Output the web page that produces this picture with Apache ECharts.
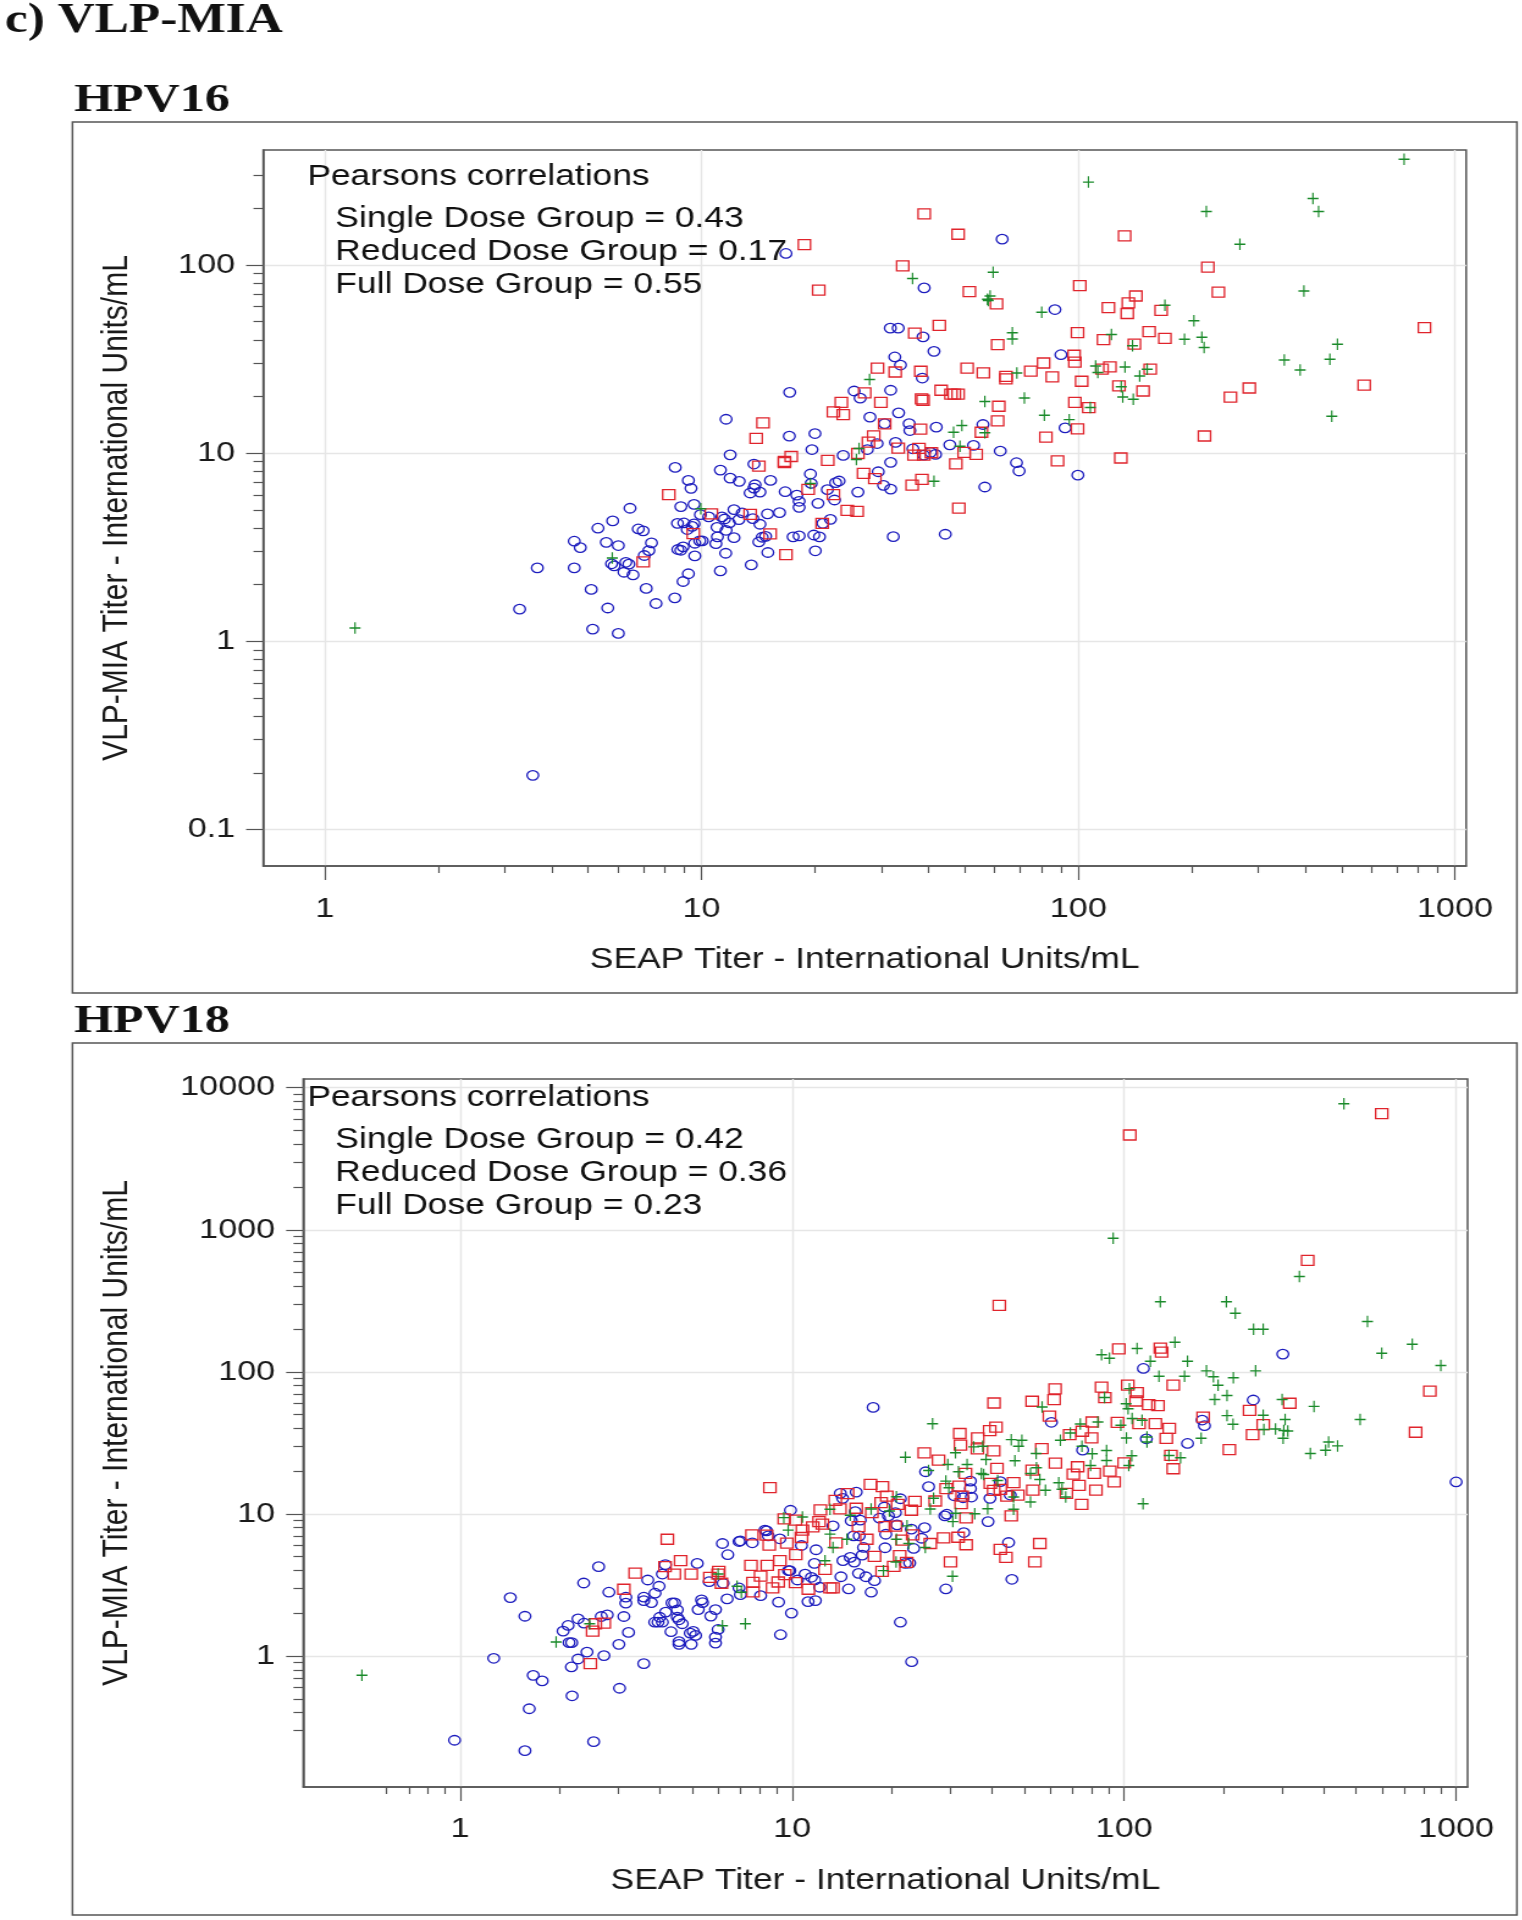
<!DOCTYPE html>
<html><head><meta charset="utf-8">
<script src="https://cdn.jsdelivr.net/npm/echarts@6/dist/echarts.min.js"></script>
<style>html,body{margin:0;padding:0;background:#fff;overflow:hidden}#c{position:absolute;left:0;top:0;transform-origin:0 0}</style>
</head><body><div id="c"></div>
<script>
// Values, as [log10 SEAP titre, log10 VLP-MIA titre].
const hpv16Single=[[1.076,.991],[1.233,1.09],[.93,.924],[1.05,.91],[1.139,.942],[.965,.855],[.972,.813],[1.076,.867],[1.1,.85],[1.183,.855],[1.142,.832],[1.139,.814],[1.129,.788],[1.155,.793],[1.222,.795],[1.253,.777],[.945,.716],[.98,.728],[.81,.707],[.764,.64],[.725,.601],[.832,.597],[.845,.587],[.662,.532],[.678,.498],[.747,.526],[.779,.509],[.867,.523],[.86,.482],[.848,.456],[.564,.39],[.662,.39],[.761,.412],[.768,.401],[.799,.42],[.807,.41],[.794,.367],[.818,.353],[.707,.276],[.853,.281],[.751,.177],[.879,.201],[.929,.231],[.517,.171],[.711,.065],[.779,.042],[.965,.359],[.951,.318],[1.05,.374],[1.132,.406],[1.176,.472],[1.064,.468],[.982,.454],[.945,.484],[.951,.502],[.937,.488],[1.038,.519],[1.042,.555],[1.086,.551],[1.152,.528],[1.161,.553],[1.17,.558],[1.243,.555],[1.259,.56],[.982,.521],[.995,.534],[1.002,.534],[.962,.594],[.936,.627],[.953,.629],[.98,.624],[.975,.611],[1.041,.606],[1.065,.59],[.997,.673],[1.019,.661],[1.054,.661],[1.061,.65],[1.074,.629],[1.086,.7],[1.099,.647],[1.108,.682],[1.136,.652],[1.155,.622],[1.175,.677],[1.207,.684],[1.259,.712],[1.259,.744],
[1.938,1.763],[1.501,1.664],[1.522,1.664],[1.588,1.618],[1.617,1.541],[1.954,1.523],[1.513,1.511],[1.528,1.468],[1.586,1.399],[1.234,1.323],[1.405,1.33],[1.421,1.292],[1.502,1.334],[1.447,1.191],[1.523,1.214],[1.551,1.157],[1.553,1.12],[1.623,1.138],[1.486,1.157],[1.747,1.152],[1.965,1.134],[1.301,1.104],[1.293,1.019],[1.466,1.051],[1.515,1.057],[1.44,1.019],[1.376,.988],[1.561,1.023],[1.608,1.004],[1.621,.993],[1.59,.989],[1.659,1.044],[1.722,1.041],[1.793,1.011],[1.836,.949],[1.843,.905],[1.502,.951],[1.469,.901],[1.483,.829],[1.502,.809],[1.752,.82],[1.999,.883],[1.289,.889],[1.291,.839],[1.334,.806],[1.356,.843],[1.365,.852],[1.415,.793],[1.309,.733],[1.353,.751],[1.342,.648],[1.322,.627],[1.298,.565],[1.313,.555],[1.302,.481],[1.509,.556],[1.647,.569],[1.798,2.137],[1.224,2.061],[1.591,1.878],[1.065,1.18],[.552,-.712]];
const hpv16Reduced=[[1.145,1.078],[1.238,.982],[1.152,.931],[1.22,.956],[1.22,.95],[.913,.779],[1.026,.677],[1.129,.675],[.978,.572],[1.182,.571],[.845,.422],[1.224,.461],
[1.631,1.679],[1.566,1.638],[1.783,1.793],[1.998,1.64],[1.786,1.576],[1.989,1.52],[1.991,1.484],[1.908,1.479],[1.874,1.436],[1.705,1.452],[1.748,1.426],[1.808,1.408],[1.808,1.394],[1.931,1.405],[1.467,1.452],[1.514,1.431],[1.582,1.435],[2.009,1.382],[1.433,1.32],[1.636,1.334],[1.662,1.313],[1.671,1.313],[1.681,1.313],[1.584,1.288],[1.588,1.281],[1.371,1.27],[1.35,1.219],[1.376,1.205],[1.476,1.27],[1.789,1.249],[1.991,1.27],[1.786,1.171],[1.486,1.155],[1.163,1.161],[1.581,1.127],[1.743,1.111],[1.914,1.085],[1.998,1.129],[1.457,1.092],[1.443,1.058],[1.415,.998],[1.522,1.027],[1.577,1.025],[1.564,.989],[1.59,.989],[1.61,1.002],[1.697,1.004],[1.729,.993],[1.675,.943],[1.945,.959],[1.335,.961],[1.43,.892],[1.46,.864],[1.559,.83],[1.585,.86],[1.283,.807],[1.35,.779],[1.387,.696],[1.413,.691],[1.683,.708],[1.32,.627],
[1.591,2.271],[1.681,2.163],[1.273,2.108],[2.123,2.154],[1.534,1.995],[2.344,1.988],[1.311,1.866],[1.711,1.858],[2.004,1.89],[2.372,1.855],[2.08,1.773],[2.153,1.835],[2.133,1.798],[2.13,1.742],[2.22,1.759],[2.067,1.603],[2.188,1.646],[2.23,1.61],[2.149,1.579],[2.084,1.458],[2.063,1.446],[2.191,1.446],[2.108,1.357],[2.172,1.33],[2.028,1.242],[2.113,.974],[2.335,1.091],[2.404,1.298],[2.454,1.346],[2.759,1.361],[2.919,1.667]];
const hpv16Full=[[.998,.705],[.763,.443],[1.903,1.749],[1.761,1.811],[1.825,1.64],[1.825,1.606],[1.837,1.426],[1.446,1.391],[1.752,1.274],[1.857,1.293],[1.91,1.201],[1.976,1.178],[1.691,1.147],[1.669,1.111],[1.752,1.108],[1.418,1.025],[1.411,.966],[1.686,1.037],[1.617,.85],[1.289,.839],
[2.865,2.562],[2.027,2.44],[2.623,2.353],[2.638,2.284],[2.34,2.284],[2.429,2.11],[1.774,1.961],[1.56,1.928],[1.766,1.835],[1.759,1.818],[2.599,1.862],[2.23,1.786],[2.307,1.703],[2.088,1.63],[2.282,1.605],[2.328,1.616],[2.334,1.561],[2.144,1.57],[2.688,1.578],[2.547,1.495],[2.668,1.499],[2.589,1.442],[2.046,1.463],[2.052,1.428],[2.124,1.458],[2.183,1.446],[2.163,1.41],[2.114,1.353],[2.118,1.298],[2.146,1.286],[2.032,1.242],[2.673,1.196],[.08,.071]];
const hpv18Single=[[.151,.411],[.195,.28],[.101,-.016],[-.017,-.593],[.195,-.666],[.402,-.603],[.208,-.371],[.337,-.28],[.48,-.227],[.22,-.136],[.247,-.175],[1.36,-.04],
[.995,1.026],[.918,.886],[.923,.881],[.928,.846],[.963,.825],[.844,.811],[.84,.806],[.79,.792],[.88,.797],[.806,.713],[1.028,.778],[1.072,.748],[1.067,.652],[.714,.652],[.618,.643],[.609,.577],[.417,.629],[.565,.535],[.372,.514],[.599,.491],[.587,.442],[.448,.449],[.499,.414],[.499,.372],[.553,.414],[.553,.39],[.576,.376],[.638,.374],[.646,.374],[.654,.325],[.619,.309],[.654,.273],[.659,.255],[.669,.227],[.601,.273],[.586,.238],[.596,.238],[.609,.238],[.635,.171],[.493,.278],[.443,.29],[.425,.278],[.355,.262],[.325,.215],[.373,.231],[.31,.175],[.507,.166],[.328,.094],[.336,.094],[.478,.082],[.382,.028],[.433,.003],[.355,-.021],[.335,-.077],[.553,-.054],[.727,.395],[.73,.376],[.717,.327],[.769,.327],[.755,.281],[.804,.402],[.777,.187],[.702,.173],[.709,.145],[.693,.161],[.769,.133],[.769,.091],[.659,.101],[.659,.082],[.696,.082],[.965,.15],[.998,.302],[.959,.379],[.905,.425],[.844,.432],[.84,.479],[1.048,.383],[1.07,.39],[1.083,.484],[1.068,.535],[1.058,.554],[1.039,.577],[1.016,.535],[.993,.601],[.989,.601],[.792,.512],[.75,.523],
[1.145,1.145],[1.152,1.11],[1.193,1.154],[1.19,1.016],[1.205,.956],[1.178,.951],[1.202,.846],[1.185,.846],[1.215,.764],[1.211,.71],[1.175,.694],[1.153,.671],[1.187,.661],[1.28,.762],[1.282,.857],[1.278,1.049],[1.263,.97],[1.29,.986],[1.311,1.009],[1.326,1.107],[1.316,.923],[1.359,.893],[1.399,.904],[1.39,.829],[1.366,.757],[1.147,.558],[1.2,.582],[1.222,.558],[1.248,.53],[1.17,.472],[1.238,.449],[1.341,.652],[1.354,.654],[1.326,.238],[1.463,.472],[1.662,.54],[1.652,.799],[1.517,.869],[1.59,.946],[1.466,.998],[1.46,.986],[1.402,1.297],[1.411,1.192],[1.488,1.128],[1.515,1.114],[1.54,1.119],[1.537,1.231],[1.537,1.178],[1.596,1.11],[1.627,1.227],[1.657,1.133],[1.875,1.449],[1.781,1.645],[1.123,.916],
[2.058,2.024],[2.478,2.125],[2.389,1.802],[2.235,1.661],[2.242,1.621],[2.191,1.496],[2.067,1.529],[1.244,1.75],[3,1.225]];
const hpv18Reduced=[[.933,1.185],[1.085,1.028],[.976,.965],[1.01,.956],[1.031,.886],[1.062,.909],[1.081,.946],[1.091,.928],[.879,.853],[.923,.851],[.931,.78],[.984,.794],[1.028,.834],[1.011,.713],[.624,.822],[.664,.671],[.617,.629],[.527,.584],[.645,.577],[.696,.577],[.493,.47],[.752,.554],[.779,.596],[.777,.577],[.787,.512],[.876,.638],[.925,.638],[.963,.671],[.905,.563],[.882,.519],[1.099,.61],[.978,.573],[.958,.521],[1.01,.516],[.941,.479],[1.049,.47],[1.114,.479],[.882,.451],[.434,.231],[.407,.227],[.399,.175],[.392,-.054],
[1.236,1.208],[1.272,1.192],[1.285,1.126],[1.13,1.096],[1.167,1.143],[1.144,1.035],[1.193,1.04],[1.24,1.009],[1.268,1.079],[1.318,1.068],[1.37,1.089],[1.359,1.026],[1.2,.911],[1.28,.911],[1.311,.914],[1.225,.822],[1.132,.797],[1.331,.815],[1.363,.853],[1.416,.792],[1.456,.832],[1.5,.836],[1.524,.783],[1.248,.701],[1.324,.706],[1.345,.659],[1.306,.631],[1.271,.596],[1.123,.479],[1.477,.663],[1.398,1.43],[1.441,1.379],[1.505,1.566],[1.507,1.484],[1.559,1.535],[1.595,1.586],[1.614,1.611],[1.558,1.458],[1.607,1.444],[1.617,1.32],[1.522,1.285],[1.503,1.196],[1.464,1.178],[1.431,1.091],[1.509,1.072],[1.524,.972],[1.597,1.215],[1.667,1.22],[1.512,1.126],[1.607,1.166],[1.627,1.173],[1.647,1.126],[1.68,1.133],[1.725,1.168],[1.723,1.308],[1.752,1.46],[1.793,1.357],[1.86,1.332],[1.847,1.28],[1.864,1.201],[1.872,1.068],[1.826,1.145],[1.836,1.558],[1.874,1.582],[1.66,.986],[1.627,.75],[1.644,.694],[1.746,.792],[1.731,.663],
[1.792,1.88],[1.789,1.805],[1.608,1.781],[1.723,1.793],[1.775,1.689],[1.932,1.892],[1.942,1.819],[2.011,1.906],[2.039,1.854],[2.036,1.795],[2.074,1.769],[2.102,1.762],[2.148,1.906],[2.045,1.635],[2.094,1.635],[1.98,1.645],[1.904,1.647],[1.902,1.536],[2.136,1.602],[2.127,1.532],[2.141,1.412],[2.148,1.318],[2,1.36],[1.91,1.285],[1.957,1.301],[1.97,1.226],[1.915,1.167],[2.238,1.682],[2.317,1.452],[2.378,1.729],[2.419,1.628],[2.387,1.558],[2.499,1.779],
[2.776,3.817],[2.017,3.667],[2.553,2.784],[1.624,2.468],[1.984,2.162],[2.109,2.167],[2.113,2.139],[2.921,1.865],[2.878,1.575]];
const hpv18Full=[[-.296,-.136],[.975,.974],[1.031,.979],[.988,.886],[1.114,1.033],[1.114,.858],[1.099,.671],[.777,.577],[.834,.491],[.847,.449],[.39,.227],[.289,.098],[.79,.213],[.859,.227],
[1.423,1.635],[1.341,1.399],[1.492,1.43],[1.547,1.472],[1.574,1.477],[1.66,1.523],[1.692,1.519],[1.682,1.477],[1.735,1.425],[1.808,1.519],[1.838,1.57],[1.873,1.477],[1.868,1.633],[1.411,1.306],[1.469,1.348],[1.527,1.348],[1.501,1.297],[1.584,1.383],[1.671,1.374],[1.57,1.285],[1.577,1.278],[1.463,1.231],[1.472,1.185],[1.426,1.11],[1.619,1.236],[1.718,1.285],[1.736,1.325],[1.746,1.243],[1.763,1.166],[1.803,1.22],[1.813,1.173],[1.824,1.119],[1.718,1.084],[1.667,1.119],[1.589,1.037],[1.667,1.033],[1.55,1.002],[1.493,1.005],[1.484,.946],[1.416,1.035],[1.314,1.121],[1.238,1.035],[1.293,1.021],[1.175,.991],[1.346,.916],[1.165,.822],[1.314,.822],[1.351,.792],[1.401,.764],[1.123,.764],[1.275,.601],[1.313,.661],[1.483,.561],
[2.662,3.887],[1.967,2.94],[2.528,2.671],[2.109,2.494],[2.308,2.494],[2.335,2.412],[2.39,2.3],[2.419,2.3],[2.733,2.354],[2.868,2.195],[2.776,2.131],[2.954,2.045],[2.153,2.209],[2.039,2.164],[1.932,2.12],[1.956,2.096],[2.711,1.664],[2.572,1.757],[2.561,1.426],[2.607,1.449],[2.616,1.507],[2.643,1.479],
[2.079,2.075],[2.191,2.075],[2.105,1.969],[2.182,1.969],[2.248,2.007],[2.269,1.965],[2.283,1.906],[2.329,1.958],[2.396,2.007],[2.273,1.805],[2.31,1.833],[2.476,1.805],[2.31,1.692],[2.328,1.631],[2.419,1.694],[2.485,1.664],[2.421,1.595],[2.456,1.598],[2.481,1.588],[2.493,1.584],[2.479,1.532],[2.232,1.532],[2.17,1.395],[2.135,1.412],[2.069,1.541],[2.069,1.506],[2.007,1.534],[2.024,1.671],[2.054,1.659],[1.99,1.624],[1.921,1.647],[1.904,1.424],[1.947,1.447],[1.947,1.376],[2.023,1.409],[2.014,1.341],[1.899,1.341],[2.057,1.071],[2.016,1.882],[2.006,1.776],[2.012,1.741],[1.941,1.819],[1.753,1.753]];

const decades16X=[1,10,100,1000], decades16Y=[.1,1,10,100];
const decades18X=[1,10,100,1000], decades18Y=[1,10,100,1000,10000];
const minor16X=[2,3,4,5,6,7,8,9,20,30,40,50,60,70,80,90,200,300,400,500,600,700,800,900];
const minor16Y=[.2,.3,.4,.5,.6,.7,.8,.9,2,3,4,5,6,7,8,9,20,30,40,50,60,70,80,90,200,300];
const minor18X=[.6,.7,.8,.9,2,3,4,5,6,7,8,9,20,30,40,50,60,70,80,90,200,300,400,500,600,700,800,900];
const minor18Y=[.3,.4,.5,.6,.7,.8,.9,2,3,4,5,6,7,8,9,20,30,40,50,60,70,80,90,200,300,400,500,600,700,800,900,2000,3000,4000,5000,6000,7000,8000,9000];
const corr16=['Single Dose Group = 0.43','Reduced Dose Group = 0.17','Full Dose Group = 0.55'];
const corr18=['Single Dose Group = 0.42','Reduced Dose Group = 0.36','Full Dose Group = 0.23'];
const xTitle='SEAP Titer - International Units/mL', yTitle='VLP-MIA Titer - International Units/mL';

const SX=1.22, W=1522/SX, H=1920;
const el=document.getElementById('c');
el.style.width=W+'px';el.style.height=H+'px';el.style.transform='scaleX('+SX+')';
const chart=echarts.init(el,null,{width:W,height:H,devicePixelRatio:1});
const titres=p=>p.map(([a,b])=>[Math.pow(10,a),Math.pow(10,b)]);
const FONT='Liberation Sans', SERIF='Liberation Serif', INK='#1a1a1a', LINE='#555555', GRID='#e6e6e6';
const PLUS='path://M5 0V10M0 5H10';
const fX=v=>v/SX;

function axisPair(kind,gridIndex,lo,hi,major,minor,title,nameGap,labelMargin){
  const a=kind==='x';
  return [{type:'log',logBase:10,gridIndex,min:lo,max:hi,position:a?'bottom':'left',
    name:title,nameLocation:'middle',nameGap,nameRotate:a?0:90,
    nameTextStyle:{fontFamily:FONT,fontSize:a?29:30,color:INK},
    axisLine:{show:true,onZero:false,lineStyle:{color:LINE,width:1.5}},
    axisTick:{show:true,length:14,customValues:major,lineStyle:{color:LINE,width:1.2}},
    axisLabel:{show:true,customValues:major,margin:labelMargin,padding:a?0:[4,0,0,0],fontFamily:FONT,fontSize:28,color:INK,
      formatter:v=>String(+(+v).toPrecision(3))},
    splitLine:{show:true,lineStyle:{color:GRID,width:1.4}},minorTick:{show:false},minorSplitLine:{show:false}},
   {type:'log',logBase:10,gridIndex,min:lo,max:hi,position:a?'bottom':'left',
    axisLine:{show:false,onZero:false},axisLabel:{show:false},splitLine:{show:false},
    axisTick:{show:true,length:a?7:8,customValues:minor,lineStyle:{color:LINE,width:1.2}}}];
}
const scatter=(name,data,i,sym,size,col)=>({name,type:'scatter',data:titres(data),xAxisIndex:i,yAxisIndex:i,
  symbol:sym,symbolSize:size,silent:true,clip:false,
  itemStyle:{color:'rgba(0,0,0,0)',borderColor:col,borderWidth:1.3,opacity:1}});
const BLUE='#1c1cbe',RED='#e0242c',GREEN='#1a8a2a';
const text=(t,x,y,font,size,weight)=>({type:'text',x:fX(x),y,z:20,
  style:{text:t,x:0,y:0,fontFamily:font,fontSize:size,fontWeight:weight||'normal',fill:'#111',verticalAlign:'bottom',textAlign:'left'}});
const frame=(x0,y0,x1,y1)=>({type:'rect',z:0,shape:{x:fX(x0),y:y0,width:fX(x1-x0),height:y1-y0},style:{fill:'none',stroke:LINE,lineWidth:1.5}});

chart.setOption({
  animation:false,backgroundColor:'#fff',
  grid:[{left:fX(263),top:150,width:fX(1465-263),height:716,show:true,borderColor:LINE,borderWidth:1.5,backgroundColor:'transparent'},
        {left:fX(303),top:1079,width:fX(1466.4-303),height:708,show:true,borderColor:LINE,borderWidth:1.5,backgroundColor:'transparent'}],
  xAxis:[...axisPair('x',0,.686,1071,decades16X,minor16X,xTitle,79,29),
         ...axisPair('x',1,.3367,1083,decades18X,minor18X,xTitle,79,28)],
  yAxis:[...axisPair('y',0,.064,408,decades16Y,minor16Y,yTitle,105,23),
         ...axisPair('y',1,.1197,11515,decades18Y,minor18Y,yTitle,138,23)],
  series:[scatter('Single Dose Group',hpv16Single,0,'circle',9.5,BLUE),
          scatter('Reduced Dose Group',hpv16Reduced,0,'rect',10,RED),
          scatter('Full Dose Group',hpv16Full,0,PLUS,[9,11.5],GREEN),
          scatter('Single Dose Group',hpv18Single,2,'circle',9.5,BLUE),
          scatter('Reduced Dose Group',hpv18Reduced,2,'rect',10,RED),
          scatter('Full Dose Group',hpv18Full,2,PLUS,[9,11.5],GREEN)],
  graphic:{elements:[
    frame(72.4,122,1515.7,993),frame(72.4,1043,1515.7,1915),
    text('c) VLP-MIA',5,42,SERIF,42,'bold'),
    text('HPV16',74,121,SERIF,41,'bold'),text('HPV18',74,1042,SERIF,41,'bold'),
    text('Pearsons correlations',307,191,FONT,29),
    ...corr16.map((t,i)=>text(t,335,[233,266,299][i],FONT,29)),
    text('Pearsons correlations',307,1112,FONT,29),
    ...corr18.map((t,i)=>text(t,335,[1154,1187,1220][i],FONT,29))
  ]}
});
</script></body></html>
